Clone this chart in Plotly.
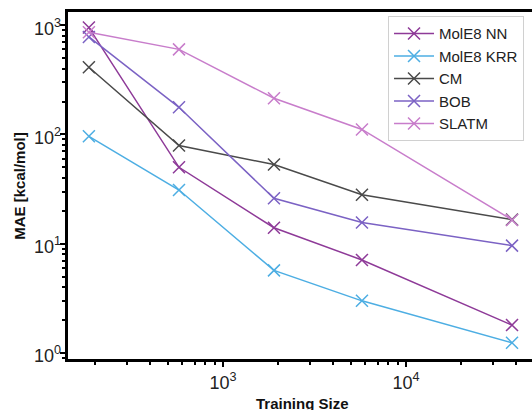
import math
import plotly.graph_objects as go

training_size = [185, 575, 1900, 5750, 38000]
series_names = ["MolE8 NN", "MolE8 KRR", "CM", "BOB", "SLATM"]
mole8_nn = [950, 50, 14, 7.1, 1.8]
mole8_krr = [96, 31, 5.7, 3.0, 1.24]
cm = [412, 79, 53, 28, 16.6]
bob = [780, 177, 26, 15.6, 9.6]
slatm = [860, 600, 214, 111, 16.5]
colors = ["#8E3A98", "#4DAEE3", "#4A4A4A", "#7B62C4", "#C87DCB"]

x_tick_vals = [1000, 10000]
x_tick_text = ["10<sup>3</sup>", "10<sup>4</sup>"]
y_tick_vals = [1, 10, 100, 1000]
y_tick_text = ["10<sup>0</sup>", "10<sup>1</sup>", "10<sup>2</sup>", "10<sup>3</sup>"]

fig = go.Figure()
for name, vals, col in zip(series_names, [mole8_nn, mole8_krr, cm, bob, slatm], colors):
    fig.add_trace(go.Scatter(
        x=training_size, y=vals, name=name, mode="lines+markers",
        line=dict(color=col, width=1.5),
        marker=dict(symbol="x-thin", size=12, line=dict(color=col, width=1.5), color=col),
    ))

annotations = [
    dict(text="<b>Training Size</b>", xref="paper", yref="paper",
         x=0.505, y=-0.098, xanchor="center", yanchor="top",
         showarrow=False, font=dict(size=15, color="#111")),
    dict(text="<b>MAE [kcal/mol]</b>", xref="paper", yref="paper",
         x=-0.105, y=0.5, xanchor="center", yanchor="middle", textangle=-90,
         showarrow=False, font=dict(size=15, color="#111")),
]
for v, t in zip(y_tick_vals, y_tick_text):
    annotations.append(dict(
        text=t, xref="paper", yref="y", x=-0.011, y=math.log10(v),
        xanchor="right", yanchor="middle", yshift=-2, showarrow=False,
        font=dict(size=18, color="#222"),
    ))

fig.update_layout(
    width=532, height=410,
    margin=dict(l=68, r=0, t=12, b=51, autoexpand=False),
    paper_bgcolor="white", plot_bgcolor="white",
    font=dict(family="Liberation Sans, Arial, sans-serif", color="black"),
    legend=dict(
        x=0.6897, y=0.988, xanchor="left", yanchor="top",
        bgcolor="white", bordercolor="#D0D0D0", borderwidth=1,
        font=dict(size=15, color="#222"), tracegroupgap=0, itemwidth=40,
    ),
    showlegend=True,
    annotations=annotations,
)
fig.update_xaxes(
    type="log", range=[2.153, 4.689], automargin=False,
    showgrid=False, zeroline=False,
    showline=True, linecolor="black", linewidth=3, mirror=True,
    ticks="outside", ticklen=5, tickwidth=1.5, tickcolor="black",
    tickvals=x_tick_vals, ticktext=x_tick_text, tickfont=dict(size=18, color="#222"),
    minor=dict(ticks="outside", ticklen=3, tickcolor="black", dtick="D1", showgrid=False),
)
fig.update_yaxes(
    type="log", range=[-0.055, 3.12], automargin=False,
    showgrid=False, zeroline=False,
    showline=True, linecolor="black", linewidth=3, mirror=False,
    ticks="outside", ticklen=5, tickwidth=1.5, tickcolor="black",
    tickvals=y_tick_vals, showticklabels=False,
    minor=dict(ticks="outside", ticklen=3, tickcolor="black", dtick="D1", showgrid=False),
)

fig.write_html(
    "out.html",
    config={"displayModeBar": False},
    post_script="document.body.style.margin='0';document.body.style.overflow='hidden';",
)
